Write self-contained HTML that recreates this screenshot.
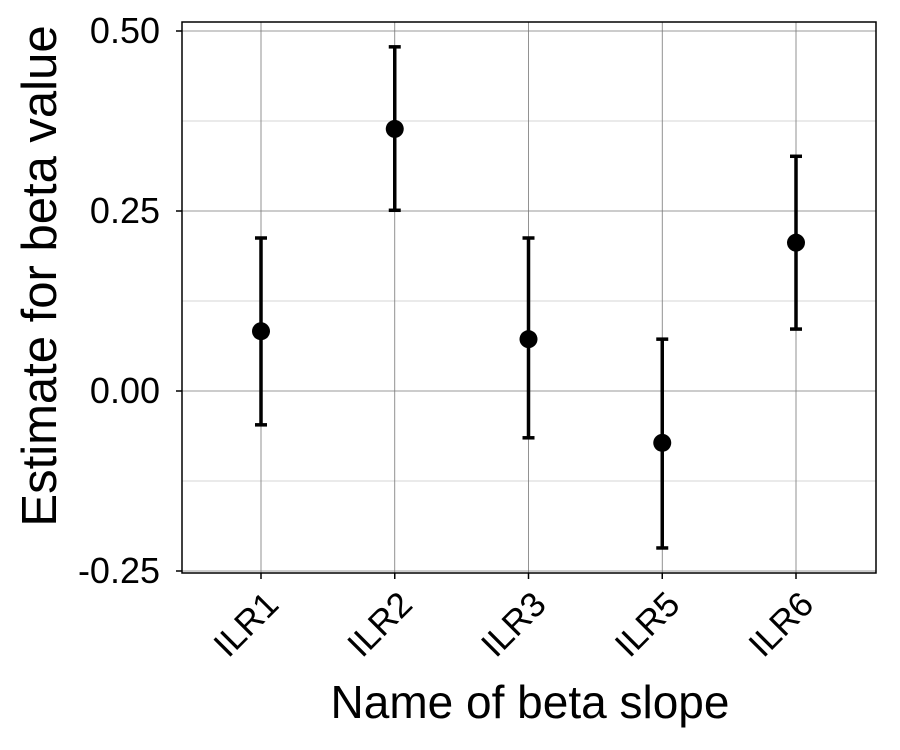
<!DOCTYPE html>
<html><head><meta charset="utf-8"><style>
body{margin:0;background:#fff;}
svg{display:block;font-family:"Liberation Sans",Arial,sans-serif;}
</style></head><body>
<svg id="chart" width="900" height="750" viewBox="0 0 900 750"></svg>
<script>
const categories=["ILR1","ILR2","ILR3","ILR5","ILR6"];
const estimates=[0.083,0.364,0.072,-0.072,0.206];
const lowers=[-0.047,0.251,-0.065,-0.218,0.086];
const uppers=[0.2125,0.478,0.2125,0.072,0.326];
const yTicks=[-0.25,0,0.25,0.5];
const yTickLabels=["-0.25","0.00","0.25","0.50"];
const yMinor=[-0.125,0.125,0.375];

const L=182,R=876,T=22,B=573;
const ns="http://www.w3.org/2000/svg";
const svg=document.getElementById('chart');
function yS(v){return 391-v*720;}
function xS(i){return 261+i*133.75;}
function mk(tag,attrs,parent){const e=document.createElementNS(ns,tag);for(const k in attrs)e.setAttribute(k,attrs[k]);(parent||svg).appendChild(e);return e;}

const grid=mk('g',{});


yMinor.forEach(v=>{mk('line',{x1:L,x2:R,y1:yS(v),y2:yS(v),stroke:'#c8c8c8','stroke-width':0.8},grid);});
yTicks.forEach(v=>{mk('line',{x1:L,x2:R,y1:yS(v),y2:yS(v),stroke:'#777','stroke-width':0.8},grid);});
categories.forEach((c,i)=>{mk('line',{x1:xS(i),x2:xS(i),y1:T,y2:B,stroke:'#777','stroke-width':0.8},grid);});

const frame=mk('rect',{x:L,y:T,width:R-L,height:B-T,fill:'none',stroke:'#000','stroke-width':1.5});



yTicks.forEach((v,i)=>{
  mk('line',{x1:L-6,x2:L,y1:yS(v),y2:yS(v),stroke:'#000','stroke-width':1.5});
  const t=mk('text',{x:L-22,y:yS(v)+12,'text-anchor':'end','font-size':36,fill:'#000'});
  t.textContent=yTickLabels[i];
  
  
});
categories.forEach((c,i)=>{
  mk('line',{x1:xS(i),x2:xS(i),y1:B,y2:B+6,stroke:'#000','stroke-width':1.5});
  const x=xS(i)+2,y=B+16;
  const t=mk('text',{x:x,y:y,'text-anchor':'end','font-size':35,fill:'#000',transform:`rotate(-45 ${x} ${y})`,'dominant-baseline':'hanging'});
  t.textContent=c;
  
  
});

categories.forEach((c,i)=>{
  const g=mk('g',{});
  
  
  const x=xS(i);
  mk('line',{x1:x,x2:x,y1:yS(lowers[i]),y2:yS(uppers[i]),stroke:'#000','stroke-width':3.5},g);
  mk('line',{x1:x-6,x2:x+6,y1:yS(lowers[i]),y2:yS(lowers[i]),stroke:'#000','stroke-width':3.5},g);
  mk('line',{x1:x-6,x2:x+6,y1:yS(uppers[i]),y2:yS(uppers[i]),stroke:'#000','stroke-width':3.5},g);
  const p=mk('circle',{cx:x,cy:yS(estimates[i]),r:9,fill:'#000'},g);
  
  
});

const xt=mk('text',{x:530,y:718,'text-anchor':'middle','font-size':46,fill:'#000'});
xt.textContent='Name of beta slope';


const yt=mk('text',{x:56,y:276,'text-anchor':'middle','font-size':49,fill:'#000',transform:'rotate(-90 56 276)'});
yt.textContent='Estimate for beta value';


</script>
</body></html>
